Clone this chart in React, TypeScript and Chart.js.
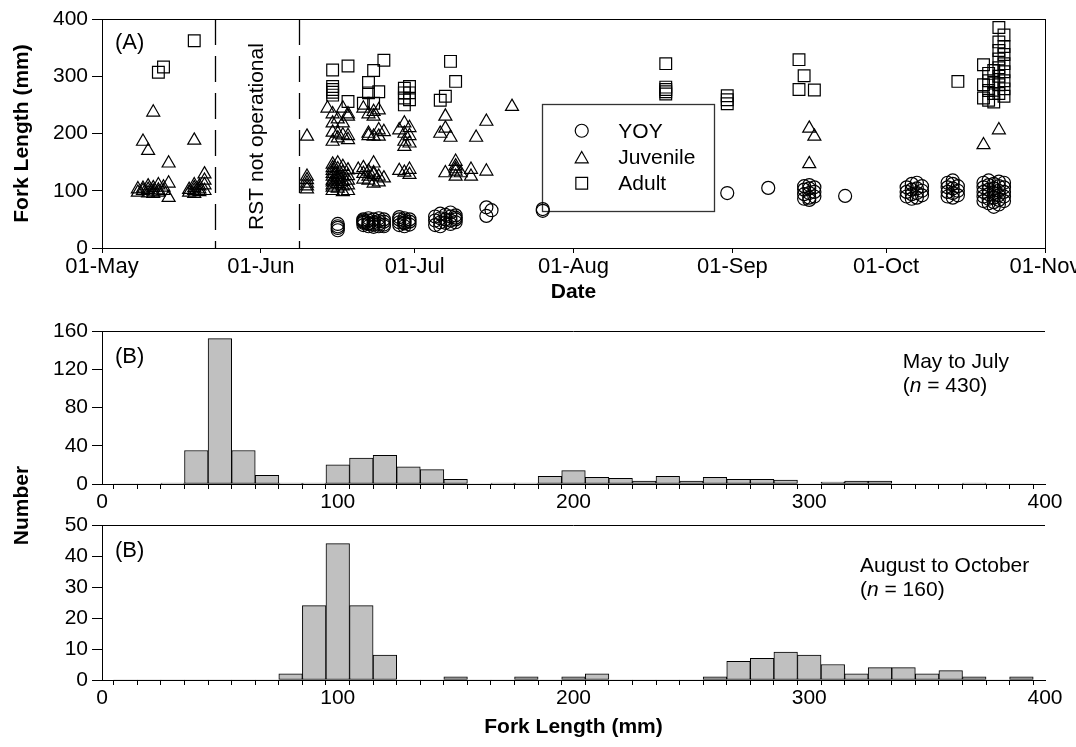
import React, { useEffect, useRef } from 'react';
import { Chart, registerables } from 'chart.js';

Chart.register(...registerables);

const FONT = '"Liberation Sans", Arial, Helvetica, sans-serif';
const TICK_SIZE = 21;
const DATE_SIZE = 22;
const TEXT_SIZE = 21;
const TITLE_SIZE = 21;
const PANEL_LABEL_SIZE = 22;

// ---------- Panel A data (x = days since 01-May) ----------
const monthTicks = [0, 31, 61, 92, 123, 153, 184];
const monthLabels = ['01-May', '01-Jun', '01-Jul', '01-Aug', '01-Sep', '01-Oct', '01-Nov'];
const rstGap = [22.1, 38.4];
const seriesNames = ['YOY', 'Juvenile', 'Adult'];

const yoyPoints: [number, number][] = [
  [46, 42], [46, 38], [46, 35], [46, 31],
  [51, 44], [51, 48], [51, 40], [51, 46], [51, 50], [52, 42], [52, 38], [52, 43], [52, 48], [52, 52],
  [53, 37], [53, 41], [53, 45], [53, 50], [54, 38], [54, 42], [54, 47], [54, 52], [55, 41], [55, 46], [55, 50], [55, 38],
  [58, 40], [58, 45], [58, 50], [58, 54], [59, 38], [59, 43], [59, 48], [59, 52], [60, 41], [60, 46], [60, 50], [59, 45],
  [65, 55], [65, 48], [65, 40], [66, 60], [66, 52], [66, 45], [66, 38], [67, 58], [67, 50], [67, 44],
  [68, 62], [68, 55], [68, 48], [68, 42], [69, 57], [69, 50], [69, 45], [69, 53],
  [75, 71], [76, 66], [75, 56],
  [86, 68], [86, 65],
  [122, 96], [130, 105],
  [137, 86], [137, 94], [137, 102], [137, 108], [138, 88], [138, 96], [138, 104], [138, 110], [139, 90], [139, 98], [139, 106], [138, 84],
  [145, 91],
  [157, 90], [157, 98], [157, 106], [158, 86], [158, 94], [158, 102], [158, 112], [159, 88], [159, 96], [159, 104], [159, 114], [160, 92], [160, 100], [160, 108],
  [165, 90], [165, 98], [165, 106], [165, 114], [166, 88], [166, 96], [166, 104], [166, 112], [166, 118], [167, 92], [167, 100], [167, 108],
  [172, 82], [172, 90], [172, 98], [172, 106], [172, 114], [173, 78], [173, 86], [173, 94], [173, 102], [173, 110], [173, 118],
  [174, 80], [174, 88], [174, 96], [174, 104], [174, 112], [175, 76], [175, 84], [175, 92], [175, 100], [175, 108], [175, 116],
  [176, 82], [176, 90], [176, 98], [176, 106], [176, 114], [174, 72],
];

const juvenilePoints: [number, number][] = [
  [8, 186], [9, 170], [10, 237], [13, 148], [18, 188], [20, 129], [20, 118], [13, 113], [13, 88], [20, 110], [19, 98],
  [7, 97], [8, 100], [8, 104], [9, 96], [9, 102], [10, 99], [10, 105], [11, 97], [11, 101], [12, 100], [12, 106], [7, 103], [9, 108], [10, 95], [11, 110],
  [17, 97], [17, 102], [18, 95], [18, 100], [18, 105], [19, 103], [19, 108], [20, 100], [18, 110],
  [40, 195], [40, 125], [40, 119], [40, 113], [40, 108], [40, 103],
  [44, 244], [45, 234], [47, 244], [48, 234], [45, 218], [47, 218], [48, 230], [45, 202], [46, 200], [47, 197], [48, 189], [45, 186], [46, 192], [48, 196], [46, 225],
  [45, 146], [45, 135], [45, 125], [45, 118], [45, 110], [45, 140], [45, 130], [46, 122], [45, 115], [45, 106], [46, 148], [46, 138], [46, 128], [46, 120],
  [46, 112], [46, 104], [47, 142], [47, 132], [47, 124], [47, 116], [47, 108], [48, 136], [48, 126], [48, 118], [48, 110], [48, 100], [45, 100], [47, 98],
  [51, 244], [52, 234], [53, 238], [54, 241], [53, 230], [52, 196], [54, 206], [55, 203], [53, 195], [54, 195], [52, 200],
  [50, 137], [51, 140], [52, 125], [53, 148], [52, 134], [53, 113], [53, 131], [54, 125], [55, 122], [51, 120], [52, 118], [54, 115], [53, 128], [51, 130],
  [59, 218], [58, 206], [59, 200], [60, 196], [59, 186], [59, 177], [60, 183], [60, 210], [58, 135], [60, 137], [60, 128], [59, 132],
  [67, 230], [67, 209], [66, 200], [68, 193], [67, 131], [69, 151], [69, 143], [69, 134], [69, 125], [70, 131], [69, 138],
  [72, 137], [72, 125], [73, 193], [75, 221], [75, 134], [80, 247],
  [138, 209], [139, 195], [138, 147],
  [172, 180], [175, 206],
];

const adultPoints: [number, number][] = [
  [11, 307], [12, 316], [18, 362],
  [45, 311], [45, 282], [45, 277], [45, 272], [45, 267], [48, 318], [48, 256],
  [51, 253], [52, 289], [52, 271], [53, 310], [53, 253], [54, 273], [55, 328],
  [59, 279], [59, 271], [59, 262], [59, 250], [60, 282], [60, 271], [60, 259],
  [66, 258], [67, 265], [68, 326], [69, 291],
  [110, 322], [110, 281], [110, 277], [110, 273], [110, 269],
  [122, 266], [122, 259], [122, 252],
  [136, 329], [137, 301], [136, 277], [139, 276],
  [167, 291],
  [175, 385], [176, 372], [175, 360], [176, 352], [175, 345], [176, 338], [175, 330], [176, 322], [175, 315], [176, 308],
  [175, 300], [176, 292], [175, 285], [176, 278], [175, 270], [176, 265],
  [172, 320], [172, 285], [172, 262], [173, 305], [173, 292], [173, 275], [173, 258], [174, 310], [174, 288], [174, 270], [174, 255],
];

// ---------- Panel B data (10-mm fork-length bins) ----------
const binCenters = [10, 20, 30, 40, 50, 60, 70, 80, 90, 100, 110, 120, 130, 140, 150, 160, 170, 180, 190, 200,
  210, 220, 230, 240, 250, 260, 270, 280, 290, 300, 310, 320, 330, 340, 350, 360, 370, 380, 390];
const mayJulCounts = [0, 0, 1, 35, 152, 35, 9, 1, 1, 20, 27, 30, 18, 15, 5, 0, 1, 1, 8, 14,
  7, 6, 3, 8, 3, 7, 5, 5, 4, 0, 2, 3, 3, 0, 0, 0, 1, 0, 0];
const augOctCounts = [0, 0, 0, 0, 0, 0, 0, 2, 24, 44, 24, 8, 0, 0, 1, 0, 0, 1, 0, 1,
  2, 0, 0, 0, 0, 1, 6, 7, 9, 8, 5, 2, 4, 4, 2, 3, 1, 0, 1];
const mayJulTicks = [0, 40, 80, 120, 160];
const augOctTicks = [0, 10, 20, 30, 40, 50];

const W = 1076;
const H = 747;

type Style = 'circle' | 'triangle' | 'rect';
const styles: Style[] = ['circle', 'triangle', 'rect'];
const radii = [6.5, 7.5, 8.3];

function drawMarker(ctx: CanvasRenderingContext2D, style: Style, x: number, y: number, r: number) {
  ctx.beginPath();
  if (style === 'circle') {
    ctx.arc(x, y, r, 0, Math.PI * 2);
  } else if (style === 'triangle') {
    const a = (2 * Math.PI) / 3;
    ctx.moveTo(x, y - r);
    ctx.lineTo(x + Math.sin(a) * r, y - Math.cos(a) * r);
    ctx.lineTo(x + Math.sin(2 * a) * r, y - Math.cos(2 * a) * r);
    ctx.closePath();
  } else {
    const s = Math.SQRT1_2 * r;
    ctx.rect(x - s, y - s, 2 * s, 2 * s);
  }
  ctx.stroke();
}

function drawNText(ctx: CanvasRenderingContext2D, x: number, y: number, n: number) {
  ctx.textAlign = 'left';
  ctx.textBaseline = 'alphabetic';
  ctx.font = `${TEXT_SIZE}px ${FONT}`;
  ctx.fillText('(', x, y);
  let w = ctx.measureText('(').width;
  ctx.font = `italic ${TEXT_SIZE}px ${FONT}`;
  ctx.fillText('n', x + w, y);
  w += ctx.measureText('n').width;
  ctx.font = `${TEXT_SIZE}px ${FONT}`;
  ctx.fillText(` = ${n})`, x + w, y);
}

const panelAPlugin = {
  id: 'panelA',
  beforeDatasetsDraw(chart: any) {
    const { ctx, chartArea: a, scales } = chart;
    const x = scales.x;
    const y = scales.y;
    ctx.save();
    ctx.strokeStyle = '#000';
    ctx.lineWidth = 1.3;
    ctx.setLineDash([26, 11]);
    for (const d of rstGap) {
      const px = Math.round(x.getPixelForValue(d)) + 0.5;
      ctx.beginPath();
      ctx.moveTo(px, a.top);
      ctx.lineTo(px, a.bottom);
      ctx.stroke();
    }
    ctx.setLineDash([]);
    ctx.save();
    ctx.translate((x.getPixelForValue(rstGap[0]) + x.getPixelForValue(rstGap[1])) / 2, (a.top + a.bottom) / 2 + 3);
    ctx.rotate(-Math.PI / 2);
    ctx.font = `${TEXT_SIZE}px ${FONT}`;
    ctx.textAlign = 'center';
    ctx.textBaseline = 'middle';
    ctx.fillStyle = '#000';
    ctx.fillText('RST not operational', 0, 0);
    ctx.restore();

    // legend box (anchored in data coordinates)
    const bx0 = x.getPixelForValue(85.8);
    const bx1 = x.getPixelForValue(119.3);
    const by0 = y.getPixelForValue(252);
    const by1 = y.getPixelForValue(65.6);
    ctx.strokeStyle = '#333';
    ctx.lineWidth = 1.3;
    ctx.strokeRect(Math.round(bx0) + 0.5, Math.round(by0) + 0.5, Math.round(bx1 - bx0), Math.round(by1 - by0));
    ctx.fillStyle = '#000';
    ctx.font = `${TEXT_SIZE}px ${FONT}`;
    ctx.textAlign = 'left';
    ctx.textBaseline = 'middle';
    seriesNames.forEach((name, i) => {
      const ry = by0 + 27 + i * 26.3;
      ctx.strokeStyle = '#000';
      ctx.lineWidth = 1.2;
      drawMarker(ctx, styles[i], bx0 + 40, i === 1 ? ry + 2 : ry, radii[i]);
      ctx.fillText(name, bx0 + 76.6, ry + 1);
    });
    ctx.restore();
  },
  afterDraw(chart: any) {
    const { ctx, chartArea: a } = chart;
    ctx.save();
    ctx.strokeStyle = '#000';
    ctx.lineWidth = 1;
    ctx.strokeRect(Math.round(a.left) + 0.5, Math.round(a.top) + 0.5, Math.round(a.right - a.left), Math.round(a.bottom - a.top));
    ctx.fillStyle = '#000';
    ctx.font = `${PANEL_LABEL_SIZE}px ${FONT}`;
    ctx.textAlign = 'left';
    ctx.textBaseline = 'alphabetic';
    ctx.fillText('(A)', a.left + 13, a.top + 30);
    ctx.restore();
  },
};

function makePanelBPlugin(line1: string, n: number, textX: number, baseOffset: number, drawNumber: boolean) {
  return {
    id: 'panelB',
    afterDraw(chart: any) {
      const { ctx, chartArea: a } = chart;
      ctx.save();
      ctx.strokeStyle = '#000';
      ctx.lineWidth = 1;
      const ty = Math.round(a.top) + 0.5;
      ctx.beginPath();
      ctx.moveTo(a.left, ty);
      ctx.lineTo(a.right, ty);
      ctx.stroke();
      ctx.fillStyle = '#000';
      ctx.font = `${PANEL_LABEL_SIZE}px ${FONT}`;
      ctx.textAlign = 'left';
      ctx.textBaseline = 'alphabetic';
      ctx.fillText('(B)', a.left + 13, a.top + 32);
      ctx.font = `${TEXT_SIZE}px ${FONT}`;
      ctx.fillText(line1, a.right - textX, a.top + baseOffset);
      drawNText(ctx, a.right - textX, a.top + baseOffset + 24, n);
      if (drawNumber) {
        ctx.save();
        ctx.translate(22, 505.5);
        ctx.rotate(-Math.PI / 2);
        ctx.font = `bold ${TITLE_SIZE}px ${FONT}`;
        ctx.textAlign = 'center';
        ctx.textBaseline = 'middle';
        ctx.fillText('Number', 0, 0);
        ctx.restore();
      }
      ctx.restore();
    },
  };
}

function yAxis(min: number, max: number, tickValues: number[], title?: string) {
  return {
    type: 'linear',
    min,
    max,
    afterBuildTicks: (s: any) => {
      s.ticks = tickValues.map((v) => ({ value: v }));
    },
    afterFit: (s: any) => {
      s.width = 102;
      s.paddingTop = 0;
      s.paddingBottom = 0;
    },
    ticks: { padding: 4, color: '#000', font: { family: FONT, size: TICK_SIZE } },
    grid: { drawOnChartArea: false, drawTicks: true, tickLength: 10, color: '#000', lineWidth: 1 },
    border: { display: true, color: '#000', width: 1 },
    title: title
      ? { display: true, text: title, color: '#000', font: { family: FONT, size: TITLE_SIZE, weight: 'bold' }, padding: { top: 9.4, bottom: 0 } }
      : { display: false },
  };
}

function histXAxis(height: number, title?: string, titlePad = 0) {
  return {
    type: 'linear',
    min: 0,
    max: 400,
    offset: false,
    afterFit: (s: any) => {
      s.height = height;
      s.paddingLeft = 0;
      s.paddingRight = 0;
    },
    ticks: {
      stepSize: 10,
      autoSkip: false,
      maxRotation: 0,
      padding: 1,
      color: '#000',
      font: { family: FONT, size: TICK_SIZE },
      callback: (v: number) => (v % 100 === 0 ? String(v) : ''),
    },
    grid: { drawOnChartArea: false, drawTicks: true, tickLength: 5, color: '#000', lineWidth: 1 },
    border: { display: true, color: '#000', width: 1 },
    title: title
      ? { display: true, text: title, color: '#000', font: { family: FONT, size: TITLE_SIZE, weight: 'bold' }, padding: { top: 0, bottom: titlePad } }
      : { display: false },
  };
}

function makeScatter(canvas: HTMLCanvasElement) {
  const sets = [yoyPoints, juvenilePoints, adultPoints];
  return new Chart(canvas, {
    type: 'scatter',
    data: {
      datasets: sets.map((pts, i) => ({
        label: seriesNames[i],
        data: pts.map(([x, y]) => ({ x, y })),
        pointStyle: styles[i],
        pointRadius: radii[i],
        pointHoverRadius: radii[i],
        pointBorderWidth: 1.2,
        pointBorderColor: '#000',
        pointBackgroundColor: 'rgba(0,0,0,0)',
        clip: false,
      })),
    },
    options: {
      animation: false,
      responsive: false,
      events: [],
      layout: { padding: { top: 19, right: 31, left: 0, bottom: H - 310 } },
      plugins: { legend: { display: false }, tooltip: { enabled: false } },
      scales: {
        x: {
          type: 'linear',
          min: 0,
          max: 184,
          afterBuildTicks: (s: any) => {
            s.ticks = monthTicks.map((v) => ({ value: v }));
          },
          afterFit: (s: any) => {
            s.height = 62;
            s.paddingLeft = 0;
            s.paddingRight = 0;
          },
          ticks: {
            autoSkip: false,
            maxRotation: 0,
            padding: 1,
            color: '#000',
            font: { family: FONT, size: DATE_SIZE },
            callback: (_v: number, i: number) => monthLabels[i],
          },
          grid: { drawOnChartArea: false, drawTicks: true, tickLength: 5, color: '#000', lineWidth: 1 },
          border: { display: true, color: '#000', width: 1 },
          title: { display: true, text: 'Date', color: '#000', font: { family: FONT, size: TITLE_SIZE, weight: 'bold' }, padding: { top: 0, bottom: 5.4 } },
        } as any,
        y: yAxis(0, 400, [0, 100, 200, 300, 400], 'Fork Length (mm)') as any,
      },
    },
    plugins: [panelAPlugin],
  } as any);
}

function makeHist(canvas: HTMLCanvasElement, counts: number[], yMax: number, yTicks: number[], padTop: number, padBottom: number,
  xHeight: number, plugin: any, title?: string, titlePad = 0) {
  return new Chart(canvas, {
    type: 'bar',
    data: {
      datasets: [{
        data: binCenters.map((c, i) => ({ x: c, y: counts[i] })),
        backgroundColor: '#c0c0c0',
        borderColor: '#000',
        borderWidth: (ctx: any) => (ctx.raw && ctx.raw.y > 0 ? 1 : 0),
        borderSkipped: false,
        barPercentage: 1,
        categoryPercentage: 1,
      }],
    },
    options: {
      animation: false,
      responsive: false,
      events: [],
      layout: { padding: { top: padTop, right: 31, left: 0, bottom: padBottom } },
      plugins: { legend: { display: false }, tooltip: { enabled: false } },
      scales: {
        x: histXAxis(xHeight, title, titlePad) as any,
        y: yAxis(0, yMax, yTicks) as any,
      },
    },
    plugins: [plugin],
  } as any);
}

export default function App() {
  const refA = useRef<HTMLCanvasElement>(null);
  const refB1 = useRef<HTMLCanvasElement>(null);
  const refB2 = useRef<HTMLCanvasElement>(null);

  useEffect(() => {
    const charts: Chart[] = [];
    if (refA.current) charts.push(makeScatter(refA.current));
    if (refB1.current) {
      charts.push(makeHist(refB1.current, mayJulCounts, 160, mayJulTicks, 331, H - 520, 36,
        makePanelBPlugin('May to July', 430, 142.3, 37, false)));
    }
    if (refB2.current) {
      charts.push(makeHist(refB2.current, augOctCounts, 50, augOctTicks, 525, 0, 67,
        makePanelBPlugin('August to October', 160, 185, 47, true), 'Fork Length (mm)', 7.4));
    }
    return () => charts.forEach((c) => c.destroy());
  }, []);

  const cs: React.CSSProperties = { position: 'absolute', left: 0, top: 0, width: W, height: H };
  return (
    <div style={{ position: 'absolute', left: 0, top: 0, width: W, height: H, background: '#fff', overflow: 'hidden' }}>
      <canvas ref={refA} width={W} height={H} style={cs} />
      <canvas ref={refB1} width={W} height={H} style={cs} />
      <canvas ref={refB2} width={W} height={H} style={cs} />
    </div>
  );
}
